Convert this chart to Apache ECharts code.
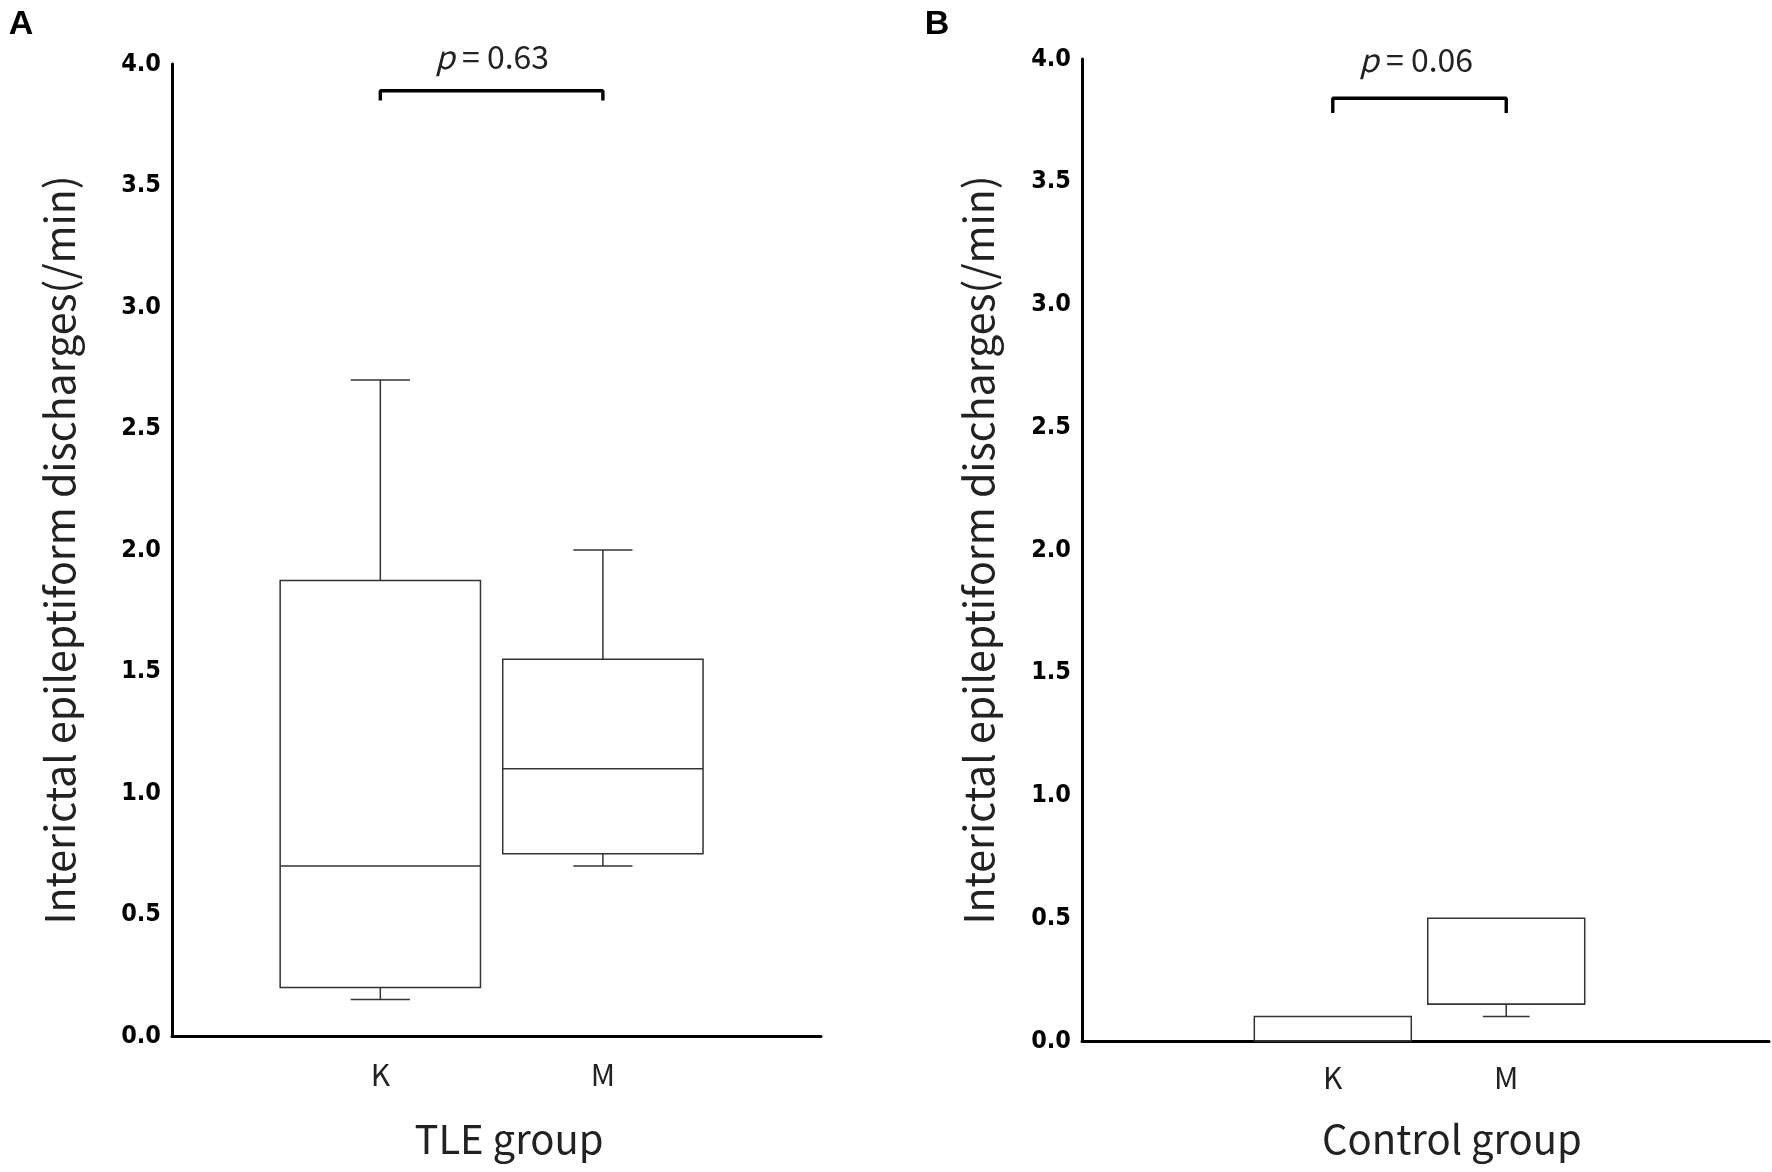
<!DOCTYPE html>
<html>
<head>
<meta charset="utf-8">
<script src="https://cdn.jsdelivr.net/npm/echarts@6/dist/echarts.min.js"></script>
<style>
  html, body { margin: 0; background: #fff; }
  #chart { width: 1772px; height: 1172px; }
</style>
</head>
<body>
<div id="chart"></div>
<script>
// groups and their x positions
var categories = ["K", "M"];
var positions = [1, 2];

// [min, Q1, median, Q3, max] per group
var tleK = [0.15, 0.2, 0.7, 1.875, 2.7];
var tleM = [0.7, 0.75, 1.1, 1.55, 2.0];
var controlK = [0, 0, 0, 0.1, 0.1];
var controlM = [0.1, 0.15, 0.15, 0.5, 0.5];

var pValues = [0.63, 0.06];
// bracket [leg bottom, bar top] in data units
var bracketTLE = [3.85, 3.89];
var bracketControl = [3.78, 3.84];

var yTitle = "Interictal epileptiform discharges(/min)";
var labelFont = "'Noto Sans CJK JP', 'Noto Sans', sans-serif";
var tickFont = "'Liberation Sans Narrow', 'DejaVu Sans Condensed', 'Liberation Sans', sans-serif";

function boxRenderer(boxFrac, capFrac) {
  return function (params, api) {
    var x = api.value(0);
    var unit = api.size([1, 0])[0];
    var half = unit * boxFrac / 2;
    var cap = unit * capFrac / 2;
    var p = [1, 2, 3, 4, 5].map(function (d) { return api.coord([x, api.value(d)]); });
    var cx = p[0][0];
    var st = { stroke: "#333", lineWidth: 1.5, fill: null };
    var kids = [
      { type: "rect", shape: { x: cx - half, y: p[3][1], width: half * 2, height: p[1][1] - p[3][1] },
        style: { stroke: "#333", lineWidth: 1.5, fill: "rgba(0,0,0,0)" } },
      { type: "line", shape: { x1: cx - half, y1: p[2][1], x2: cx + half, y2: p[2][1] }, style: st }
    ];
    if (api.value(1) < api.value(2)) {
      kids.push({ type: "line", shape: { x1: cx, y1: p[1][1], x2: cx, y2: p[0][1] }, style: st });
      kids.push({ type: "line", shape: { x1: cx - cap, y1: p[0][1], x2: cx + cap, y2: p[0][1] }, style: st });
    }
    if (api.value(5) > api.value(4)) {
      kids.push({ type: "line", shape: { x1: cx, y1: p[3][1], x2: cx, y2: p[4][1] }, style: st });
      kids.push({ type: "line", shape: { x1: cx - cap, y1: p[4][1], x2: cx + cap, y2: p[4][1] }, style: st });
    }
    return { type: "group", children: kids };
  };
}

function bracket(b) {
  return [[positions[0], b[0]], [positions[0], b[1]], [positions[1], b[1]], [positions[1], b[0]]];
}

function yAxis(gridIndex, gap) {
  return {
    type: "value", gridIndex: gridIndex, min: 0, max: 4, interval: 0.5,
    name: yTitle, nameLocation: "middle", nameGap: gap,
    nameTextStyle: { fontFamily: labelFont, fontSize: 41, color: "#222" },
    axisLine: { show: true, onZero: false, lineStyle: { color: "#000", width: 3 } },
    axisTick: { show: false },
    splitLine: { show: false },
    axisLabel: {
      margin: 11, color: "#000", fontSize: 25, fontWeight: "bold", fontFamily: tickFont,
      formatter: function (v) { return v.toFixed(1); }
    }
  };
}

function xAxis(gridIndex, min, max, margin) {
  return {
    type: "value", gridIndex: gridIndex, min: min, max: max,
    axisLine: { show: true, onZero: false, lineStyle: { color: "#000", width: 3 } },
    axisTick: { show: false },
    splitLine: { show: false },
    axisLabel: {
      margin: margin, color: "#222", fontSize: 30, fontFamily: labelFont,
      customValues: positions,
      formatter: function (v) { return categories[positions.indexOf(v)] || ""; }
    }
  };
}

function pText(p) {
  return "{i|p} = " + p.toFixed(2);
}

var chart = echarts.init(document.getElementById("chart"));
chart.setOption({
  backgroundColor: "#fff",
  animation: false,
  grid: [
    { left: 172, top: 64, width: 649, height: 972 },
    { left: 1082, top: 59, width: 687, height: 982 }
  ],
  xAxis: [xAxis(0, 0.064, 2.98, 24), xAxis(1, -0.446, 3.515, 22)],
  yAxis: [yAxis(0, 92), yAxis(1, 83)],
  series: [
    {
      type: "custom", xAxisIndex: 0, yAxisIndex: 0,
      renderItem: boxRenderer(0.9, 0.266),
      encode: { x: 0, y: [1, 2, 3, 4, 5] },
      data: [[positions[0]].concat(tleK), [positions[1]].concat(tleM)]
    },
    {
      type: "custom", xAxisIndex: 1, yAxisIndex: 1,
      renderItem: boxRenderer(0.905, 0.27),
      encode: { x: 0, y: [1, 2, 3, 4, 5] },
      data: [[positions[0]].concat(controlK), [positions[1]].concat(controlM)]
    },
    {
      type: "line", xAxisIndex: 0, yAxisIndex: 0, showSymbol: false, symbol: "none",
      lineStyle: { color: "#000", width: 3.4 }, data: bracket(bracketTLE)
    },
    {
      type: "line", xAxisIndex: 1, yAxisIndex: 1, showSymbol: false, symbol: "none",
      lineStyle: { color: "#000", width: 3.4 }, data: bracket(bracketControl)
    }
  ],
  graphic: [
    { type: "text", x: 21, y: 25, style: { text: "A", fontSize: 34, fontWeight: "bold", fontFamily: "'Liberation Sans', Arial, sans-serif", fill: "#000", align: "center", verticalAlign: "middle" } },
    { type: "text", x: 937, y: 25, style: { text: "B", fontSize: 34, fontWeight: "bold", fontFamily: "'Liberation Sans', Arial, sans-serif", fill: "#000", align: "center", verticalAlign: "middle" } },
    { type: "text", x: 509, y: 1139, style: { text: "TLE group", fontSize: 40, fontFamily: labelFont, fill: "#222", align: "center", verticalAlign: "middle" } },
    { type: "text", x: 1452, y: 1139, style: { text: "Control group", fontSize: 40, fontFamily: labelFont, fill: "#222", align: "center", verticalAlign: "middle" } },
    { type: "text", x: 492, y: 57, style: { text: pText(pValues[0]), fontSize: 32, fontFamily: labelFont, fill: "#222", align: "center", verticalAlign: "middle", rich: { i: { fontStyle: "italic", fontSize: 32, fontFamily: labelFont, fill: "#222" } } } },
    { type: "text", x: 1416, y: 60, style: { text: pText(pValues[1]), fontSize: 32, fontFamily: labelFont, fill: "#222", align: "center", verticalAlign: "middle", rich: { i: { fontStyle: "italic", fontSize: 32, fontFamily: labelFont, fill: "#222" } } } }
  ]
});
</script>
</body>
</html>
